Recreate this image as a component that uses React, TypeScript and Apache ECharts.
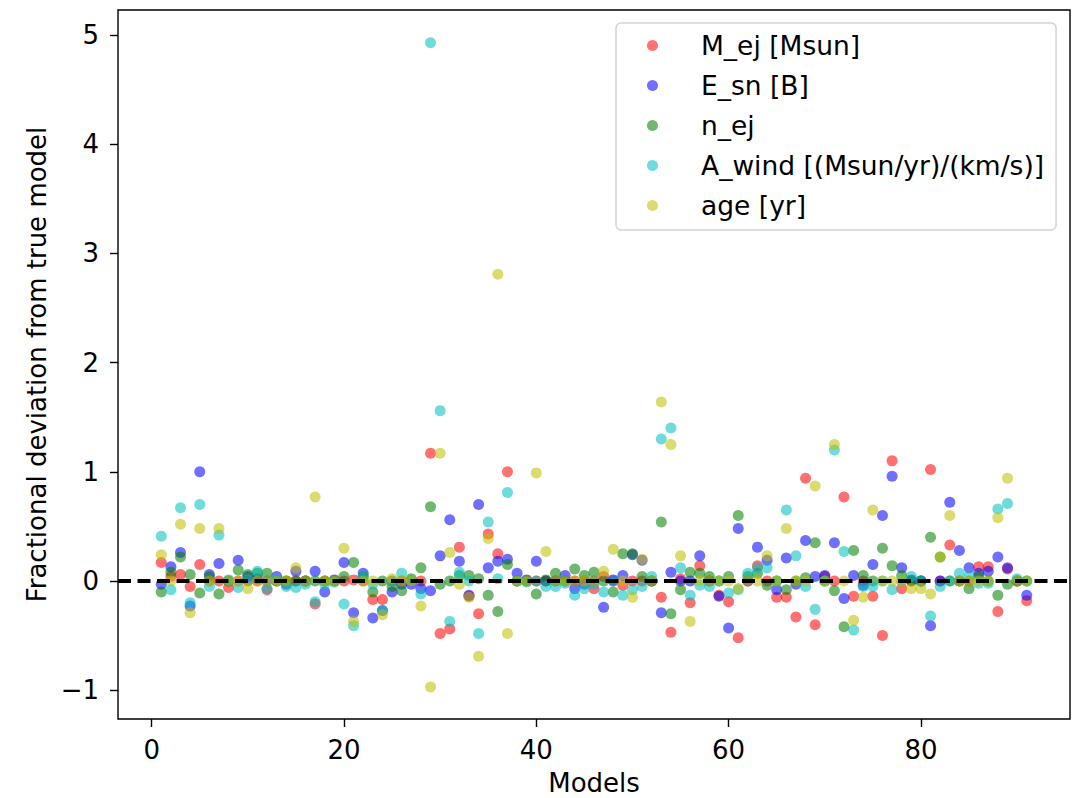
import React, { useEffect, useRef } from "react";
import * as echarts from "echarts";

const models = [
  1, 2, 3, 4, 5, 6, 7, 8, 9, 10, 11, 12, 13, 14, 15, 16, 17, 18, 19, 20,
  21, 22, 23, 24, 25, 26, 27, 28, 29, 30, 31, 32, 33, 34, 35, 36, 37, 38, 39, 40,
  41, 42, 43, 44, 45, 46, 47, 48, 49, 50, 51, 52, 53, 54, 55, 56, 57, 58, 59, 60,
  61, 62, 63, 64, 65, 66, 67, 68, 69, 70, 71, 72, 73, 74, 75, 76, 77, 78, 79, 80,
  81, 82, 83, 84, 85, 86, 87, 88, 89, 90, 91,
];

const mEj = [
  0.17, 0.04, 0.06, -0.05, 0.15, 0.0, 0.0, -0.06, 0.0, 0.0,
  0.0, -0.08, 0.0, 0.0, 0.0, 0.0, -0.21, 0.0, 0.0, 0.0,
  0.01, 0.0, -0.17, -0.17, 0.0, 0.0, 0.0, 0.0, 1.17, -0.48,
  -0.44, 0.31, -0.14, -0.3, 0.43, 0.25, 1.0, 0.0, 0.0, 0.0,
  0.0, 0.0, 0.0, 0.0, 0.0, -0.07, 0.04, 0.0, -0.04, 0.0,
  0.0, 0.0, -0.15, -0.47, 0.02, -0.2, 0.14, 0.0, -0.13, -0.19,
  -0.52, 0.0, 0.14, 0.0, -0.15, -0.15, -0.33, 0.94, -0.4, 0.04,
  0.0, 0.77, -0.14, 0.0, -0.14, -0.5, 1.1, -0.07, 0.0, 0.0,
  1.02, 0.0, 0.33, 0.0, 0.0, 0.13, 0.13, -0.28, 0.11, 0.0,
  -0.18,
];

const eSn = [
  -0.03, 0.13, 0.26, -0.23, 1.0, 0.06, 0.16, 0.0, 0.19, 0.04,
  0.02, 0.0, 0.04, -0.03, 0.09, 0.0, 0.09, -0.1, 0.01, 0.17,
  -0.29, 0.07, -0.34, -0.27, -0.1, -0.03, -0.03, -0.07, -0.09, 0.23,
  0.56, 0.18, -0.13, 0.7, 0.12, 0.18, 0.2, 0.07, 0.01, 0.18,
  0.0, 0.0, 0.05, -0.07, -0.03, 0.0, -0.24, 0.01, 0.05, 0.24,
  0.19, 0.0, -0.29, 0.08, 0.0, 0.0, 0.23, 0.0, -0.14, -0.43,
  0.48, 0.0, 0.31, 0.19, -0.08, 0.21, -0.03, 0.37, 0.04, 0.05,
  0.35, -0.16, 0.05, -0.04, 0.15, 0.6, 0.96, 0.12, 0.01, 0.0,
  -0.41, 0.0, 0.72, 0.28, 0.12, 0.07, 0.09, 0.22, 0.12, 0.0,
  -0.13,
];

const nEj = [
  -0.1, 0.08, 0.22, 0.06, -0.11, 0.04, -0.12, 0.0, 0.1, 0.06,
  0.07, 0.07, 0.0, 0.0, 0.0, 0.0, 0.0, 0.0, 0.0, 0.04,
  0.17, 0.04, -0.1, 0.0, -0.05, -0.09, 0.02, 0.12, 0.68, -0.03,
  0.0, 0.05, 0.05, 0.02, -0.13, -0.28, 0.15, 0.0, 0.0, -0.12,
  0.01, 0.07, 0.0, 0.11, 0.05, 0.08, 0.0, -0.1, 0.25, 0.25,
  0.04, 0.0, 0.54, -0.3, -0.08, 0.08, 0.07, 0.04, 0.0, 0.04,
  0.6, 0.04, 0.07, -0.04, 0.0, -0.08, 0.0, 0.03, 0.35, 0.0,
  -0.09, -0.42, 0.28, 0.05, 0.0, 0.3, 0.14, 0.05, 0.0, 0.0,
  0.4, 0.22, 0.0, 0.0, -0.07, 0.04, 0.0, -0.13, -0.03, 0.0,
  0.0,
];

const aWind = [
  0.41, -0.08, 0.67, -0.2, 0.7, -0.05, 0.42, 0.01, -0.06, 0.01,
  0.09, -0.07, 0.01, -0.05, -0.06, -0.03, -0.19, -0.03, -0.01, -0.21,
  -0.41, 0.04, -0.03, -0.27, 0.0, 0.07, 0.0, -0.12, 4.93, 1.56,
  -0.37, 0.08, 0.0, -0.48, 0.54, 0.02, 0.81, 0.0, -0.01, 0.0,
  -0.05, -0.05, -0.02, -0.13, -0.07, -0.03, -0.1, 0.0, -0.13, -0.08,
  -0.05, 0.04, 1.3, 1.4, 0.12, -0.13, -0.04, -0.05, 0.0, -0.11,
  -0.08, 0.07, 0.12, 0.12, 0.0, 0.65, 0.23, -0.05, -0.26, 0.0,
  1.2, 0.27, -0.45, -0.05, -0.05, 0.0, -0.08, 0.0, 0.04, 0.0,
  -0.32, -0.05, 0.0, 0.07, 0.04, -0.02, -0.02, 0.66, 0.71, 0.02,
  0.0,
];

const age = [
  0.24, 0.0, 0.52, -0.29, 0.48, 0.0, 0.48, 0.0, 0.0, -0.07,
  0.0, 0.0, 0.0, 0.0, 0.12, 0.0, 0.77, 0.0, 0.0, 0.3,
  -0.37, 0.0, 0.0, -0.31, 0.02, 0.0, 0.0, -0.23, -0.97, 1.17,
  0.26, -0.03, -0.15, -0.69, 0.39, 2.81, -0.48, 0.0, 0.0, 0.99,
  0.27, 0.0, 0.0, 0.0, 0.0, 0.0, 0.09, 0.29, 0.0, -0.15,
  0.2, 0.0, 1.64, 1.25, 0.23, -0.37, 0.0, 0.0, 0.0, 0.0,
  -0.07, 0.0, 0.0, 0.23, 0.0, 0.48, 0.0, 0.0, 0.87, 0.0,
  1.25, 0.0, -0.36, -0.15, 0.65, 0.0, 0.0, 0.0, -0.07, -0.07,
  -0.12, 0.22, 0.6, 0.0, 0.0, 0.0, 0.0, 0.58, 0.94, 0.0,
  0.0,
];

const seriesNames = [
  "M_ej [Msun]",
  "E_sn [B]",
  "n_ej",
  "A_wind [(Msun/yr)/(km/s)]",
  "age [yr]",
];
const seriesValues = [mEj, eSn, nEj, aWind, age];
const seriesColors = [
  "rgba(255,0,0,0.7)",
  "rgba(0,0,255,0.7)",
  "rgba(0,128,0,0.7)",
  "rgba(0,191,191,0.7)",
  "rgba(191,191,0,0.7)",
];

const xTicks = [0, 20, 40, 60, 80];
const yTicks = [-1, 0, 1, 2, 3, 4, 5];
const xRange = [-3.5, 95.5];
const yRange = [-1.264, 5.229];
const zeroLine = [
  [xRange[0], 0],
  [xRange[1], 0],
];

const FONT = "DejaVu Sans";

export default function App() {
  const ref = useRef<HTMLDivElement>(null);

  useEffect(() => {
    document.body.style.margin = "0";
    if (!ref.current) return;
    const chart = echarts.init(ref.current, null, { renderer: "svg" });

    const scatterSeries = seriesNames.map((name, s) => ({
      name,
      type: "scatter",
      symbol: "circle",
      symbolSize: 11,
      itemStyle: { color: seriesColors[s] },
      emphasis: { disabled: true },
      data: models.map((m, i) => [m, seriesValues[s][i]]),
      z: 2,
    }));

    chart.setOption({
      animation: false,
      backgroundColor: "#ffffff",
      grid: {
        left: 118,
        right: 10,
        top: 10,
        bottom: 79,
        show: true,
        borderColor: "#000",
        borderWidth: 1.4,
        backgroundColor: "transparent",
        containLabel: false,
        outerBoundsMode: "none",
      },
      legend: {
        data: seriesNames,
        orient: "vertical",
        left: 616,
        top: 23,
        padding: [9, 12, 11, 31],
        itemGap: 13,
        itemWidth: 11,
        itemHeight: 11,
        icon: "circle",
        textStyle: {
          fontFamily: FONT,
          fontSize: 26.5,
          color: "#000",
          padding: [0, 0, 0, 38],
        },
        backgroundColor: "#fff",
        borderColor: "#d4d4d4",
        borderWidth: 1.5,
        borderRadius: 5,
        selectedMode: false,
      },
      xAxis: {
        type: "value",
        min: xRange[0],
        max: xRange[1],
        splitLine: { show: false },
        axisLine: { show: false, onZero: false },
        axisTick: {
          show: true,
          customValues: xTicks,
          length: 8,
          lineStyle: { color: "#000", width: 1.4 },
        },
        axisLabel: {
          customValues: xTicks,
          fontFamily: FONT,
          fontSize: 26,
          color: "#000",
          margin: 18,
        },
        name: "Models",
        nameLocation: "middle",
        nameGap: 51,
        nameMoveOverlap: false,
        nameTextStyle: { fontFamily: FONT, fontSize: 26, color: "#000" },
      },
      yAxis: {
        type: "value",
        min: yRange[0],
        max: yRange[1],
        splitLine: { show: false },
        axisLine: { show: false, onZero: false },
        axisTick: {
          show: true,
          customValues: yTicks,
          length: 8,
          lineStyle: { color: "#000", width: 1.4 },
        },
        axisLabel: {
          customValues: yTicks,
          fontFamily: FONT,
          fontSize: 26,
          color: "#000",
          margin: 19,
          formatter: (v: number) => String(v).replace("-", "\u2212"),
        },
        name: "Fractional deviation from true model",
        nameLocation: "middle",
        nameGap: 68,
        nameMoveOverlap: false,
        nameTextStyle: { fontFamily: FONT, fontSize: 26, color: "#000" },
      },
      series: [
        ...scatterSeries,
        {
          name: "zero",
          type: "line",
          data: zeroLine,
          symbol: "none",
          lineStyle: { color: "#000", width: 4, type: [13, 6.5] },
          silent: true,
          z: 3,
        },
      ],
    });

    return () => chart.dispose();
  }, []);

  return <div ref={ref} style={{ width: 1080, height: 798 }} />;
}
